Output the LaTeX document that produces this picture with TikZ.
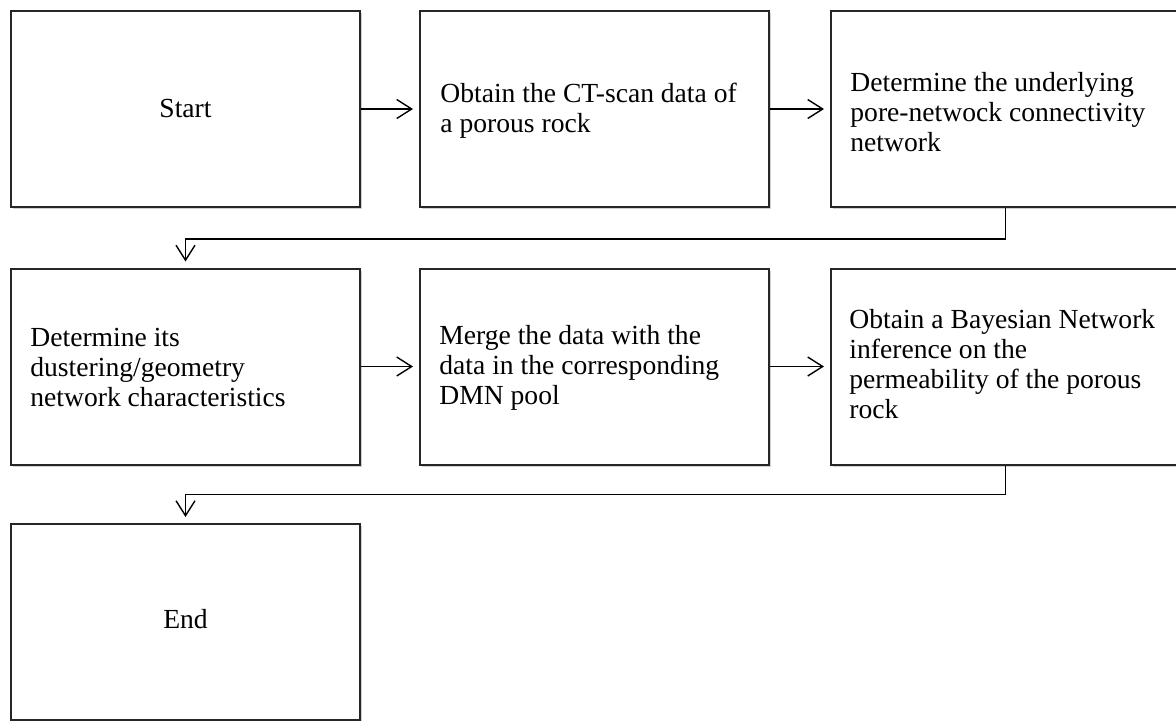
\documentclass[tikz,border=0pt]{standalone}
\usepackage{fontspec}
\setmainfont{Liberation Serif}
\usetikzlibrary{arrows.meta,shadows}
\begin{document}
\begin{tikzpicture}[x=0.5pt,y=-0.5pt,
  box/.style={draw=black!85, line width=1pt, fill=white, rectangle,
    minimum width=174.5pt, minimum height=98pt, inner sep=0pt,
    drop shadow={shadow xshift=1pt, shadow yshift=-1.2pt, opacity=0.18, fill=black}},
  txt/.style={align=left, inner sep=0pt, font=\fontsize{13.8}{15}\selectfont},
  arr/.style={draw=black, line width=0.7pt, -{Straight Barb[length=7.5pt,width=9.5pt,line width=0.7pt]}, shorten >=3pt}]
\useasboundingbox (0,0) rectangle (1176,720);
\clip (0,0) rectangle (1176,720);
% boxes
\node[box] (b1) at (185.5,109) {};
\node[box] (b2) at (594.5,109) {};
\node[box] (b3) at (1005.5,109) {};
\node[box] (b4) at (185.5,366.5) {};
\node[box] (b5) at (594.5,366.5) {};
\node[box] (b6) at (1005.5,366.5) {};
\node[box] (b7) at (185.5,622) {};
% texts (anchored at the baseline of the last line)
\node[txt, anchor=base] (t1) at (185.5,117) {Start};
\node[txt, anchor=base west] (t2) at (440,132) {Obtain the CT-scan data of\\a porous rock};
\node[txt, anchor=base west] (t3) at (850,151) {Determine the underlying\\pore-netwock connectivity\\network};
\node[txt, anchor=base west] (t4) at (30,406) {Determine its\\dustering/geometry\\network characteristics};
\node[txt, anchor=base west] (t5) at (439,404) {Merge the data with the\\data in the corresponding\\DMN pool};
\node[txt, anchor=base west] (t6) at (849,418) {Obtain a Bayesian Network\\inference on the\\permeability of the porous\\rock};
\node[txt, anchor=base] (t7) at (185.5,628) {End};
% connectors
\draw[arr] (b1.east) -- (b2.west);
\draw[arr] (b2.east) -- (b3.west);
\draw[arr] (b4.east) -- (b5.west);
\draw[arr] (b5.east) -- (b6.west);
\draw[arr] (b3.south) -- ++(0,31) -| (b4.north);
\draw[arr] (b6.south) -- ++(0,29) -| (b7.north);
\end{tikzpicture}
\end{document}
